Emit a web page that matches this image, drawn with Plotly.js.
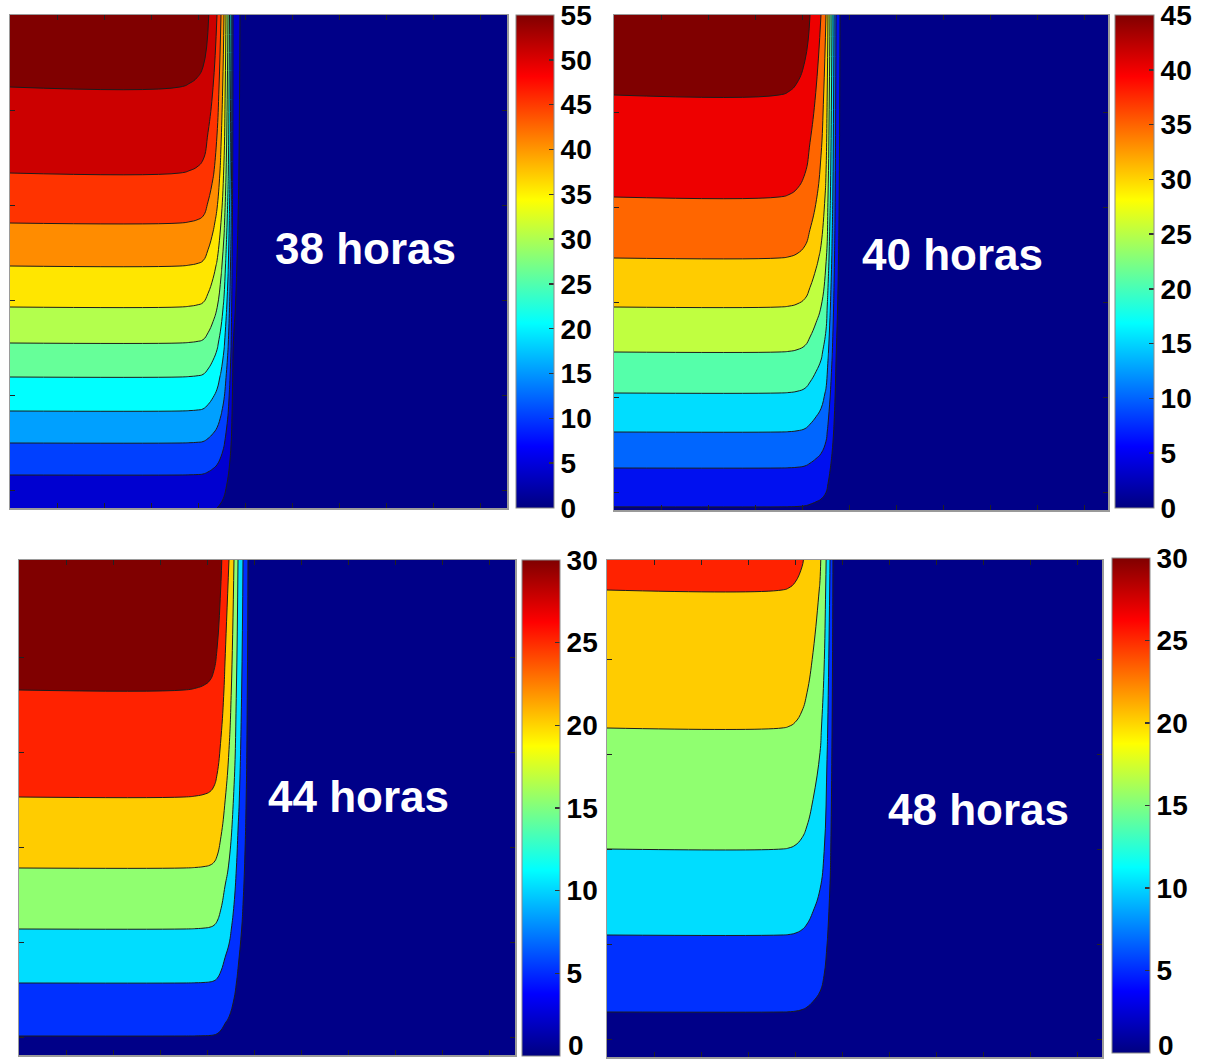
<!DOCTYPE html>
<html>
<head>
<meta charset="utf-8">
<script src="https://cdn.plot.ly/plotly-3.0.1.min.js"></script>
<style>
  html, body { margin: 0; padding: 0; background: #ffffff; }
  #chart { width: 1205px; height: 1063px; }
</style>
</head>
<body>
<div id="chart"></div>
<script>
// ---------------------------------------------------------------
// Data: vertical profiles (value at the heights where each contour
// level crosses the left side) and the horizontal front profile
// (fraction of the column value kept as we move across the front).
// Heights and distances are in the plot's own units.
// ---------------------------------------------------------------

// 38 horas
const heights38 = [0, 33, 65, 97, 131, 165, 201, 242, 285, 335, 421, 493];
const profile38 = [5.8, 10, 15, 20, 25, 30, 35, 40, 45, 50, 55, 58];
const frontX38  = [0, 170, 180, 187, 193, 198, 203, 207, 211, 214, 216, 218, 219.5, 221, 222, 223, 230, 236, 497];
const frontF38  = [1, 1, 0.997, 0.993, 0.985, 0.955, 0.91, 0.862, 0.776, 0.69, 0.603, 0.517, 0.431, 0.345, 0.259, 0.172, 0.086, 0, 0];
const bands38   = ['#000088', '#0000d0', '#0040ff', '#00a0ff', '#00ffff', '#66ff99',
                   '#b3ff4d', '#ffe600', '#ff8c00', '#ff3300', '#cc0000', '#800000'];
const cbTicks38 = [0, 5, 10, 15, 20, 25, 30, 35, 40, 45, 50, 55];

// 40 horas
const heights40 = [0, 42, 78, 117, 158, 203, 252, 313, 415, 495];
const profile40 = [4.6, 10, 15, 20, 25, 30, 35, 40, 45, 48];
const frontX40  = [0, 165, 175, 183, 191, 196, 202, 207, 212, 214, 216, 218, 220, 222, 226, 232, 494];
const frontF40  = [1, 1, 0.997, 0.99, 0.972, 0.9375, 0.885, 0.833, 0.729, 0.625, 0.52, 0.417, 0.3125, 0.208, 0.104, 0, 0];
const bands40   = ['#000088', '#0010f0', '#0066ff', '#00ddff', '#55ffaa', '#c0ff40',
                   '#ffcc00', '#ff6600', '#ee0000', '#800000'];
const cbTicks40 = [0, 5, 10, 15, 20, 25, 30, 35, 40, 45];

// 44 horas
const heights44 = [0, 19, 72, 126, 187, 258, 365, 495];
const profile44 = [3.2, 5, 10, 15, 20, 25, 30, 34];
const frontX44  = [0, 165, 177, 185, 191, 195, 198, 202, 206, 210, 215, 219, 224, 229, 236, 496];
const frontF44  = [1, 1, 0.998, 0.995, 0.99, 0.98, 0.96, 0.9, 0.81, 0.735, 0.588, 0.441, 0.294, 0.147, 0, 0];
const bands44   = ['#000088', '#0030ff', '#00ddff', '#90ff70', '#ffcc00', '#ff2200', '#800000'];
const cbTicks44 = [0, 5, 10, 15, 20, 25, 30];

// 48 horas
const heights48 = [0, 45, 122, 208, 329, 467, 497];
const profile48 = [2.5, 5, 10, 15, 20, 25, 26];
const frontX48  = [0, 175, 182, 188, 195, 200, 206, 213, 217, 220, 223, 226, 232, 495];
const frontF48  = [1, 1, 0.997, 0.99, 0.97, 0.94, 0.88, 0.79, 0.68, 0.535, 0.385, 0.19, 0, 0];
const bands48   = ['#000088', '#0030ff', '#00ddff', '#90ff70', '#ffcc00', '#ff2200'];
const cbTicks48 = [0, 5, 10, 15, 20, 25, 30];

// Axis tick positions (no labels are drawn on the field axes)
const xTicks = [47, 94, 141, 188, 235, 282, 329, 376, 423, 470];
const yTicks = [18, 113, 208, 303, 398];

// Panel captions
const captions = ['38 horas', '40 horas', '44 horas', '48 horas'];

// ---------------------------------------------------------------
// Layout (pixels in a 1205 x 1063 page)
// ---------------------------------------------------------------
const PW = 1205, PH = 1063;
const boxes = [
  { plot: [10, 507, 15, 508],     cb: [516, 554, 15, 508],    cmax: 55, cap: [366, 248], lowZero: false },
  { plot: [614, 1108, 15, 510],   cb: [1115, 1154, 15, 508],  cmax: 45, cap: [952, 254], lowZero: false },
  { plot: [19, 515, 560, 1055],   cb: [522, 560, 560, 1056],  cmax: 30, cap: [358, 796], lowZero: true },
  { plot: [607, 1102, 560, 1057], cb: [1112, 1150, 558, 1053], cmax: 30, cap: [978, 809], lowZero: true }
];

const series = [
  { h: heights38, p: profile38, fx: frontX38, ff: frontF38, bands: bands38, ticks: cbTicks38 },
  { h: heights40, p: profile40, fx: frontX40, ff: frontF40, bands: bands40, ticks: cbTicks40 },
  { h: heights44, p: profile44, fx: frontX44, ff: frontF44, bands: bands44, ticks: cbTicks44 },
  { h: heights48, p: profile48, fx: frontX48, ff: frontF48, bands: bands48, ticks: cbTicks48 }
];

// MATLAB-style jet for the continuous colour bars
const jet = [
  [0, '#000080'], [0.125, '#0000ff'], [0.375, '#00ffff'],
  [0.625, '#ffff00'], [0.875, '#ff0000'], [1, '#800000']
];

const labelFont = { family: 'Liberation Sans, Arial, sans-serif', color: '#000000', size: 28, weight: 'bold' };

const traces = [];
const layout = {
  width: PW, height: PH,
  margin: { l: 0, r: 0, t: 0, b: 0, autoexpand: false },
  paper_bgcolor: '#ffffff', plot_bgcolor: '#000088',
  showlegend: false,
  annotations: []
};

series.forEach((s, i) => {
  const n = i + 1;
  const b = boxes[i];
  const w = b.plot[1] - b.plot[0];
  const hgt = b.plot[3] - b.plot[2];

  // field = column profile x front profile
  const z = s.h.map((_, r) => s.ff.map(f => s.p[r] * f));
  const nb = s.bands.length;

  traces.push({
    type: 'contour',
    x: s.fx, y: s.h, z: z,
    xaxis: 'x' + n, yaxis: 'y' + n,
    autocontour: false,
    contours: { start: 5, end: 5 * (nb - 1), size: 5, coloring: 'fill', showlines: true },
    colorscale: s.bands.map((c, k) => [k / (nb - 1), c]),
    showscale: false,
    line: { color: '#1c1c1c', width: 1, smoothing: 1.3 },
    hoverinfo: 'skip'
  });

  // the zero label of bars that end at the page foot is set just above the bar end
  const barTicks = b.lowZero ? s.ticks.filter(t => t !== 0) : s.ticks;

  // colour bar carrier (marker lies outside the visible range)
  traces.push({
    type: 'scatter', mode: 'markers',
    x: [-1000], y: [-1000],
    xaxis: 'x' + n, yaxis: 'y' + n,
    hoverinfo: 'skip', showlegend: false,
    marker: {
      color: [0], cmin: 0, cmax: b.cmax, colorscale: jet, showscale: true, size: 1,
      colorbar: {
        x: b.cb[0] / PW, xanchor: 'left', xref: 'paper',
        y: 1 - (b.cb[2] + b.cb[3]) / 2 / PH, yanchor: 'middle', yref: 'paper',
        len: b.cb[3] - b.cb[2], lenmode: 'pixels',
        thickness: b.cb[1] - b.cb[0], thicknessmode: 'pixels',
        xpad: 0, ypad: 0,
        outlinewidth: 1, outlinecolor: '#8a8a8a',
        ticks: 'inside', ticklen: 5, tickwidth: 1.5, tickcolor: '#333333',
        tickmode: 'array', tickvals: barTicks, ticktext: barTicks.map(String),
        ticklabeloverflow: 'allow',
        tickfont: labelFont
      }
    }
  });

  if (b.lowZero) {
    layout.annotations.push({
      text: '0', showarrow: false,
      xref: 'paper', yref: 'paper',
      x: (b.cb[1] + 6) / PW, y: 0,
      xanchor: 'left', yanchor: 'bottom',
      font: labelFont
    });
  }

  layout['xaxis' + n] = {
    domain: [b.plot[0] / PW, b.plot[1] / PW],
    range: [0, w], anchor: 'y' + n,
    showgrid: false, zeroline: false, showticklabels: false,
    ticks: 'inside', ticklen: 5, tickwidth: 1, tickcolor: '#222222',
    tickmode: 'array', tickvals: xTicks,
    showline: true, linecolor: '#9a9a9a', linewidth: 1.5, mirror: 'allticks',
    fixedrange: true
  };
  layout['yaxis' + n] = {
    domain: [1 - b.plot[3] / PH, 1 - b.plot[2] / PH],
    range: [0, hgt], anchor: 'x' + n,
    showgrid: false, zeroline: false, showticklabels: false,
    ticks: 'inside', ticklen: 5, tickwidth: 1, tickcolor: '#222222',
    tickmode: 'array', tickvals: yTicks,
    showline: true, linecolor: '#9a9a9a', linewidth: 1.5, mirror: 'allticks',
    fixedrange: true
  };

  layout.annotations.push({
    text: captions[i], showarrow: false,
    xref: 'paper', yref: 'paper',
    x: b.cap[0] / PW, y: 1 - b.cap[1] / PH,
    xanchor: 'center', yanchor: 'middle',
    font: { family: 'Liberation Sans, Arial, sans-serif', size: 44, color: '#ffffff', weight: 'bold' }
  });
});

Plotly.newPlot('chart', traces, layout, { staticPlot: true, displayModeBar: false });
</script>
</body>
</html>
